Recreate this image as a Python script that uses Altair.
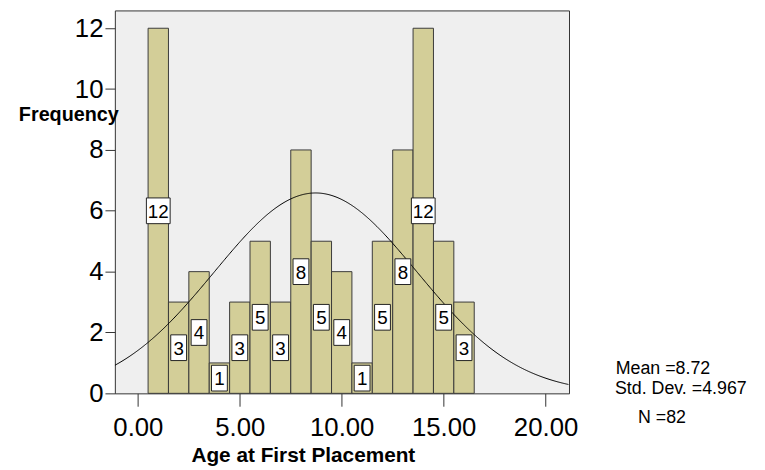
import altair as alt
import pandas as pd

# ---- data ----
centers = list(range(1, 17))
counts = [12, 3, 4, 1, 3, 5, 3, 8, 5, 4, 1, 5, 8, 12, 5, 3]
mean_val, sd_val, n_val = 8.72, 4.967, 82
x_ticks = [0, 5, 10, 15, 20]
y_ticks = [0, 2, 4, 6, 8, 10, 12]
stat_mean = "Mean =8.72"
stat_sd = "Std. Dev. =4.967"
stat_n = "N =82"

FONT = "Liberation Sans"

df = pd.DataFrame({"center": centers, "count": counts})
df["label"] = df["count"].astype(str)
df["digits"] = df["label"].str.len()

xs = alt.Scale(domain=[-1.13, 21.15], nice=False, zero=False)
ys = alt.Scale(domain=[0, 12.585], nice=False, zero=False)

x_axis = alt.Axis(values=x_ticks, format=".2f", tickSize=13, labelPadding=9,
                  title="Age at First Placement", titleFontSize=21, titleFontWeight="bold",
                  titleX=190, titleY=63, titleAlign="center", titleBaseline="middle",
                  titleFont=FONT)
y_axis = alt.Axis(values=y_ticks, format="d", tickSize=10, labelPadding=2,
                  title="Frequency", titleAngle=0, titleFontSize=20, titleFontWeight="bold",
                  titleX=-47, titleY=105, titleAlign="center", titleBaseline="middle",
                  titleFont=FONT)

base = alt.Chart(df)

bars = base.transform_calculate(
    x0="datum.center - 0.5", x1="datum.center + 0.5"
).mark_rect(fill="#d3ce98", stroke="#3a3a3a", strokeWidth=1).encode(
    x=alt.X("x0:Q", scale=xs, axis=x_axis),
    x2="x1:Q",
    y=alt.Y("count:Q", scale=ys, axis=y_axis),
    y2=alt.datum(0),
)

curve = alt.Chart(alt.sequence(-1.13, 21.16, 0.05, as_="x")).transform_calculate(
    y=f"{n_val} / ({sd_val} * sqrt(2 * PI)) * exp(-pow(datum.x - {mean_val}, 2) / (2 * {sd_val} * {sd_val}))"
).mark_line(color="black", strokeWidth=1, clip=True).encode(
    x=alt.X("x:Q", scale=xs),
    y=alt.Y("y:Q", scale=ys),
)

box1 = base.transform_filter("datum.digits == 1").transform_calculate(
    half="datum.count / 2"
).mark_point(shape="M-0.8,-1.3L0.8,-1.3L0.8,1.3L-0.8,1.3Z", size=400, filled=True,
             fill="white", stroke="#222222", strokeWidth=1, opacity=1).encode(
    x=alt.X("center:Q", scale=xs), y=alt.Y("half:Q", scale=ys))

box2 = base.transform_filter("datum.digits == 2").transform_calculate(
    half="datum.count / 2"
).mark_point(shape="M-1.2,-1.3L1.2,-1.3L1.2,1.3L-1.2,1.3Z", size=400, filled=True,
             fill="white", stroke="#222222", strokeWidth=1, opacity=1).encode(
    x=alt.X("center:Q", scale=xs), y=alt.Y("half:Q", scale=ys))

labels = base.transform_calculate(half="datum.count / 2").mark_text(
    font=FONT, fontSize=19, color="black", baseline="middle", align="center", dy=1
).encode(x=alt.X("center:Q", scale=xs), y=alt.Y("half:Q", scale=ys), text="label:N")


def stat_text(s, px, py):
    return alt.Chart(pd.DataFrame({"t": [s]})).mark_text(
        font=FONT, fontSize=18, color="black", align="center", baseline="middle", clip=False
    ).encode(x=alt.value(px), y=alt.value(py), text="t:N")


stats = stat_text(stat_mean, 554, 362) + stat_text(stat_sd, 572, 383) + stat_text(stat_n, 553, 412)

chart = alt.layer(bars, curve, box1, box2, labels, stats).properties(
    width=459, height=387,
    padding={"left": 108, "top": 0, "right": 190, "bottom": 75},
    autosize=alt.AutoSizeParams(type="none"),
    background="white",
).configure_view(
    fill="#efefef", stroke="#333333", strokeWidth=1
).configure_axis(
    grid=False, domain=False, tickColor="#333333", tickWidth=1,
    labelFont=FONT, labelFontSize=26, labelColor="black", titleColor="black",
)

chart.save("out.html", embed_options={"renderer": "svg", "actions": False})
